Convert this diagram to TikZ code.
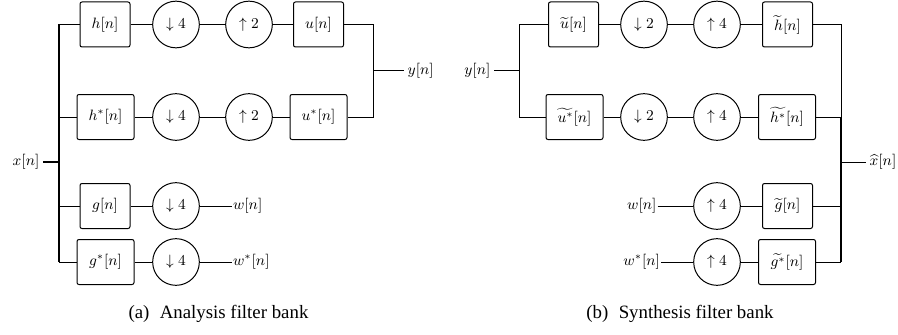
\documentclass[tikz,border=0pt]{standalone}
\usepackage{fontspec}
\usepackage{amsmath}
\newfontfamily\capfont{Liberation Serif}
\begin{document}
\begin{tikzpicture}[x=0.6pt,y=-0.6pt,
  mfont/.style={font=\fontsize{9}{11}\selectfont},
  blk/.style={draw, rounded corners=1.2pt, minimum width=30pt, minimum height=27pt, inner sep=1pt, mfont, line width=0.6pt},
  wblk/.style={blk, minimum width=34.2pt},
  rate/.style={draw, circle, minimum size=28pt, inner sep=0pt, mfont, line width=0.6pt},
  sig/.style={inner sep=2pt, mfont},
  tightsig/.style={inner sep=0.4pt, mfont},
  wire/.style={line width=0.6pt},
  bus/.style={line width=1pt},
  subcap/.style={inner sep=0pt, font=\capfont\fontsize{11.3}{13}\selectfont}
]
\useasboundingbox (0,0) rectangle (898,335);

% ---------------- Analysis filter bank ----------------
\node[blk]  (h)   at (105,24.5)  {$h[n]$};
\node[rate] (hd)  at (176,24.5)  {$\downarrow 4$};
\node[rate] (hu)  at (249,24.5)  {$\uparrow 2$};
\node[blk]  (u)   at (318.5,24.5) {$u[n]$};

\node[wblk] (hs)  at (105.5,117) {$h^*[n]$};
\node[rate] (hsd) at (176,117)   {$\downarrow 4$};
\node[rate] (hsu) at (249,117)   {$\uparrow 2$};
\node[wblk] (us)  at (318.5,117) {$u^*[n]$};

\node[blk]  (g)   at (105,206)   {$g[n]$};
\node[rate] (gd)  at (176,206)   {$\downarrow 4$};
\node[wblk] (gs)  at (105.5,262) {$g^*[n]$};
\node[rate] (gsd) at (176,262)   {$\downarrow 4$};

\node[sig, anchor=east] (xin)  at (43,162)   {$x[n]$};
\node[sig, anchor=west] (yout) at (404,70.75) {$y[n]$};
\node[tightsig, anchor=west] (wout) at (232,206)  {$w[n]$};
\node[tightsig, anchor=west] (wsout) at (232,262) {$w^*[n]$};

\coordinate (lb1) at (59,24.5);
\coordinate (lb2) at (59,117);
\coordinate (lbx) at (59,162);
\coordinate (lb3) at (59,206);
\coordinate (lb4) at (59,262);
\coordinate (rb1) at (373,24.5);
\coordinate (rb2) at (373,117);
\coordinate (rby) at (373,70.75);

\draw[bus] (lb1) -- (lb4);
\draw[bus] (xin) -- (lbx);
\draw[wire] (lb1) -- (h) -- (hd) -- (hu) -- (u) -- (rb1) -- (rb2) -- (us) -- (hsu) -- (hsd) -- (hs) -- (lb2);
\draw[wire] (rby) -- (yout);
\draw[wire] (lb3) -- (g) -- (gd) -- (wout);
\draw[wire] (lb4) -- (gs) -- (gsd) -- (wsout);

\node[subcap] (capa) at (218.5,314) {(a)\hspace{0.55em}Analysis filter bank};

% ---------------- Synthesis filter bank ----------------
\node[blk]  (ut)   at (573.5,24.5) {$\widetilde{u}[n]$};
\node[rate] (utd)  at (644,24.5)   {$\downarrow 2$};
\node[rate] (utu)  at (717,24.5)   {$\uparrow 4$};
\node[blk]  (ht)   at (787.5,24.5) {$\widetilde{h}[n]$};

\node[wblk] (ust)  at (574.5,117)  {$\widetilde{u^*}[n]$};
\node[rate] (ustd) at (644,117)    {$\downarrow 2$};
\node[rate] (ustu) at (717,117)    {$\uparrow 4$};
\node[wblk] (hst)  at (787,117)    {$\widetilde{h^*}[n]$};

\node[rate] (wu)   at (717,206)    {$\uparrow 4$};
\node[blk]  (gt)   at (787.5,206)  {$\widetilde{g}[n]$};
\node[rate] (wsu)  at (717,262)    {$\uparrow 4$};
\node[wblk] (gst)  at (787,262)    {$\widetilde{g^*}[n]$};

\node[sig, anchor=east] (yin)  at (494,70.75) {$y[n]$};
\node[tightsig, anchor=east] (win)  at (657.5,206)  {$w[n]$};
\node[tightsig, anchor=east] (wsin) at (661,262)  {$w^*[n]$};
\node[sig, anchor=west] (xout) at (866,162)  {$\widehat{x}[n]$};

\coordinate (sb1) at (519,24.5);
\coordinate (sb2) at (519,117);
\coordinate (sby) at (519,70.75);
\coordinate (tb1) at (841,24.5);
\coordinate (tb2) at (841,117);
\coordinate (tbx) at (841,162);
\coordinate (tb3) at (841,206);
\coordinate (tb4) at (841,262);

\draw[wire] (yin) -- (sby);
\draw[wire] (sb1) -- (sb2);
\draw[wire] (sb1) -- (ut) -- (utd) -- (utu) -- (ht) -- (tb1);
\draw[wire] (sb2) -- (ust) -- (ustd) -- (ustu) -- (hst) -- (tb2);
\draw[wire] (win) -- (wu) -- (gt) -- (tb3);
\draw[wire] (wsin) -- (wsu) -- (gst) -- (tb4);
\draw[wire] (tb1) -- (tb2);
\draw[bus] (tb2) -- (tb4);
\draw[wire] (tbx) -- (xout);

\node[subcap] (capb) at (680,314) {(b)\hspace{0.55em}Synthesis filter bank};
\end{tikzpicture}
\end{document}
